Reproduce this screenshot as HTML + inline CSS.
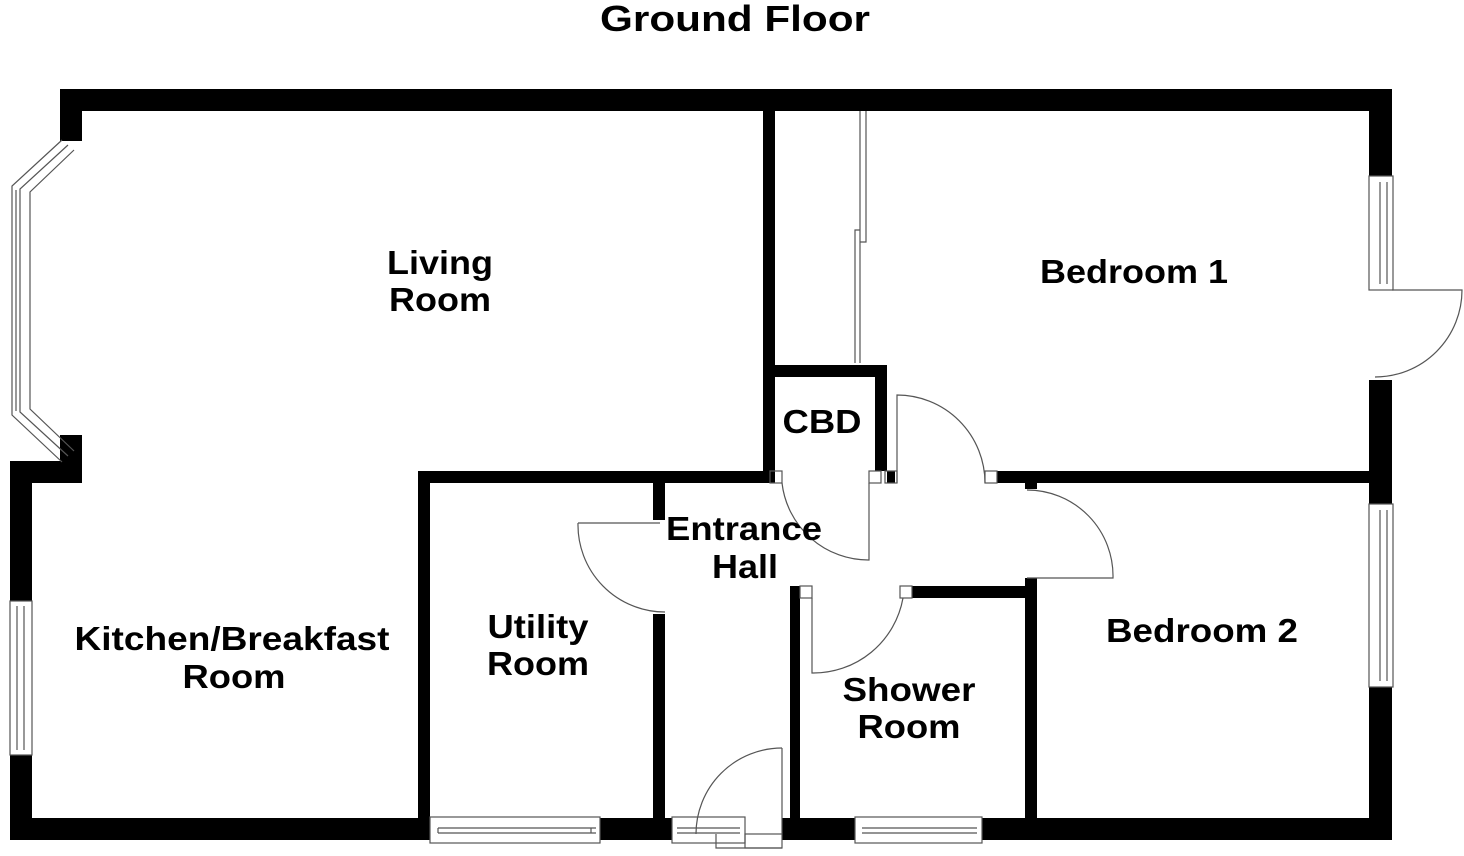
<!DOCTYPE html>
<html><head><meta charset="utf-8"><style>
html,body{margin:0;padding:0;background:#fff;}
svg{display:block;}
text{font-family:"Liberation Sans",Arial,sans-serif;font-weight:bold;fill:#000;text-anchor:middle;}
</style></head><body>
<svg width="1464" height="856" viewBox="0 0 1464 856" xmlns="http://www.w3.org/2000/svg">
<rect width="1464" height="856" fill="#fff"/>
<text x="735" y="31" font-size="36" textLength="270" lengthAdjust="spacingAndGlyphs">Ground Floor</text>
<g fill="#000">
<rect x="60" y="89" width="1332" height="22"/>
<rect x="60" y="89" width="22" height="52"/>
<rect x="60" y="435" width="22" height="48"/>
<rect x="10" y="461" width="72" height="22"/>
<rect x="10" y="461" width="22" height="140"/>
<rect x="10" y="755" width="22" height="85"/>
<rect x="10" y="818" width="420" height="22"/>
<rect x="600" y="818" width="72" height="22"/>
<rect x="782" y="818" width="73" height="22"/>
<rect x="982" y="818" width="410" height="22"/>
<rect x="1369" y="89" width="23" height="87"/>
<rect x="1369" y="380" width="23" height="124"/>
<rect x="1369" y="687" width="23" height="153"/>
<rect x="763" y="111" width="12" height="372"/>
<rect x="763" y="365" width="124" height="12"/>
<rect x="875" y="365" width="12" height="106"/>
<rect x="418" y="471" width="352" height="12"/>
<rect x="418" y="471" width="12" height="350"/>
<rect x="653" y="483" width="12" height="37"/>
<rect x="653" y="614" width="12" height="206"/>
<rect x="887" y="471" width="8" height="12"/>
<rect x="997" y="471" width="395" height="12"/>
<rect x="1025" y="483" width="12" height="6"/>
<rect x="790" y="586" width="10" height="234"/>
<rect x="912" y="586" width="118" height="12"/>
<rect x="1025" y="578" width="12" height="242"/>
</g>
<g fill="none" stroke="#555" stroke-width="1.2">
<path d="M62,140 L12,186 L12,415 L62,462"/>
<path d="M74,150 L30,192 L30,409 L74,451"/>
<path d="M68,145 L20,189 L20,412 L68,456"/>
<path d="M16,190 L16,411"/>
<rect x="10" y="601" width="22" height="154"/><path d="M17,606 V750 M24,606 V750"/>
<rect x="1369" y="176" width="24" height="114"/><path d="M1380,182 V284 M1387,182 V284"/>
<rect x="1369" y="504" width="24" height="183"/><path d="M1380,510 V681 M1387,510 V681"/>
<path d="M1392,290 H1462 A87,87 0 0 1 1375,377"/>
<rect x="430" y="817" width="170" height="26"/><path d="M438,828 H596 M438,833 H596 M438,828 V833 M591,828 V833"/>
<rect x="672" y="817" width="73" height="26"/><path d="M677,828 H740 M677,833 H740"/>
<rect x="855" y="817" width="127" height="26"/><path d="M862,828 H977 M862,833 H977"/>
<rect x="745" y="834" width="37" height="14"/><path d="M716,834 V848 H782 M782,748 V834"/>
<path d="M782,748 A86,86 0 0 0 696,834"/>
<path d="M860,111 V242 H866 V111 M855,363 V230 H860 M860,242 V363"/>
<path d="M578,523 H660 M578,523 A87,87 0 0 0 665,612"/>
<path d="M869,483 V560 A87,87 0 0 1 782,483"/>
<rect x="770" y="471" width="12" height="12"/><rect x="869" y="471" width="12" height="12"/>
<rect x="885" y="471" width="12" height="12"/><rect x="985" y="471" width="12" height="12"/>
<path d="M897,483 V395 A88,88 0 0 1 985,483"/>
<path d="M1027,578 H1113 A86,86 0 0 0 1027,490"/>
<rect x="800" y="586" width="12" height="12"/><rect x="900" y="586" width="12" height="12"/>
<path d="M812,598 V673 A91,91 0 0 0 903,598"/>
</g>
<g font-size="33" lengthAdjust="spacingAndGlyphs">
<text x="440" y="274" textLength="106" lengthAdjust="spacingAndGlyphs">Living</text><text x="440" y="311" textLength="102" lengthAdjust="spacingAndGlyphs">Room</text>
<text x="1134" y="283" textLength="188" lengthAdjust="spacingAndGlyphs">Bedroom 1</text>
<text x="822" y="433" textLength="79" lengthAdjust="spacingAndGlyphs">CBD</text>
<text x="744" y="540" textLength="156" lengthAdjust="spacingAndGlyphs">Entrance</text><text x="745" y="578" textLength="66" lengthAdjust="spacingAndGlyphs">Hall</text>
<text x="538" y="638" textLength="101" lengthAdjust="spacingAndGlyphs">Utility</text><text x="538" y="675" textLength="102" lengthAdjust="spacingAndGlyphs">Room</text>
<text x="232" y="650" textLength="315" lengthAdjust="spacingAndGlyphs">Kitchen/Breakfast</text><text x="234" y="688" textLength="103" lengthAdjust="spacingAndGlyphs">Room</text>
<text x="1202" y="642" textLength="192" lengthAdjust="spacingAndGlyphs">Bedroom 2</text>
<text x="909" y="701" textLength="133" lengthAdjust="spacingAndGlyphs">Shower</text><text x="909" y="738" textLength="103" lengthAdjust="spacingAndGlyphs">Room</text>
</g>
</svg>
</body></html>
